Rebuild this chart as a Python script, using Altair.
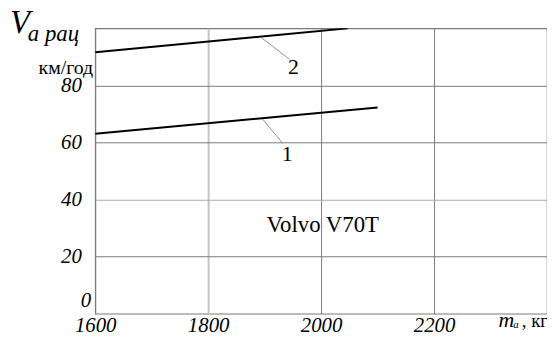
import altair as alt
import pandas as pd

# data
series = ["1", "1", "2", "2"]
mass = [1600, 2100, 1600, 2047]
speed = [63.1, 72.3, 91.6, 100.0]

x_ticks = [1600, 1800, 2000, 2200]
y_ticks = [20, 40, 60, 80]

# leader lines for curve labels (from curve point to label)
lead_m1 = [1893, 1896]
lead_v1 = [96.9, 68.3]
lead_m2 = [1944, 1932]
lead_v2 = [89.2, 59.7]
lab_text = ["2", "1"]
lab_m = [1951, 1940]
lab_v = [86.4, 56.0]

df = pd.DataFrame({"series": series, "m": mass, "v": speed})
lead = pd.DataFrame({"m1": lead_m1, "v1": lead_v1, "m2": lead_m2, "v2": lead_v2})
labs = pd.DataFrame({"t": lab_text, "m": lab_m, "v": lab_v})

SERIF = "Liberation Serif"

xs = alt.Scale(domain=[1600, 2400], nice=False)
ys = alt.Scale(domain=[0, 100], nice=False)

x_axis = alt.Axis(values=x_ticks, title=None, grid=True, ticks=False, domain=False, format="d",
                  labelFont=SERIF, labelFontStyle="italic", labelFontSize=21,
                  labelColor="black", labelPadding=1, labelFlush=False,
                  gridColor={"condition": {"test": "datum.value == 1800", "value": "#c4c4c4"}, "value": "#7a7a7a"},
                  gridWidth={"condition": {"test": "datum.value == 1800", "value": 2}, "value": 1})
y_axis = alt.Axis(values=y_ticks, title=None, grid=True, ticks=False, domain=False, format="d",
                  labelFont=SERIF, labelFontStyle="italic", labelFontSize=21,
                  labelColor="black", labelPadding=14,
                  gridColor={"condition": {"test": "datum.value == 40", "value": "#a8a8a8"}, "value": "#7a7a7a"})

lines = alt.Chart(df).mark_line(color="black", strokeWidth=2, clip=True).encode(
    x=alt.X("m:Q", scale=xs, axis=x_axis),
    y=alt.Y("v:Q", scale=ys, axis=y_axis),
    detail="series:N",
)

leaders = alt.Chart(lead).mark_rule(color="#777777", strokeWidth=0.8).encode(
    x="m1:Q", y="v1:Q", x2="m2:Q", y2="v2:Q"
)

curve_labels = alt.Chart(labs).mark_text(font=SERIF, fontSize=22, color="black").encode(
    x="m:Q", y="v:Q", text="t:N"
)

def note(text, x, y, size, italic=False, align="left"):
    kw = dict(font=SERIF, fontSize=size, align=align, baseline="alphabetic", color="black")
    if italic:
        kw["fontStyle"] = "italic"
    return alt.Chart(pd.DataFrame({"t": [text]})).mark_text(**kw).encode(
        x=alt.value(x), y=alt.value(y), text="t:N")

zero = alt.Chart(pd.DataFrame({"m": [1600], "v": [0], "t": ["0"]})).mark_text(
    font=SERIF, fontSize=21, fontStyle="italic", align="right", baseline="middle",
    dx=-4, dy=-13, color="black"
).encode(x="m:Q", y="v:Q", text="t:N")

volvo = alt.Chart(pd.DataFrame({"m": [2003], "v": [31.1], "t": ["Volvo V70T"]})).mark_text(
    font=SERIF, fontSize=23, color="black", baseline="middle"
).encode(x="m:Q", y="v:Q", text="t:N")

chart = alt.layer(
    lines, leaders, curve_labels, zero, volvo,
    note("V", -86, 5, 33, True),
    note("а рац", -68, 13, 23, True),
    note("км/год", -2, 46, 20, align="right"),
    note("m", 407, 301, 22, True),
    note("a", 422, 302, 11, True),
    note(", кг", 457, 301, 19, align="right"),
).properties(
    width=456, height=288,
    autosize=alt.AutoSizeParams(type="none"),
    padding={"left": 88, "top": 19, "right": 0, "bottom": 26},
).configure(font=SERIF).configure_view(stroke="#7a7a7a", strokeWidth=1.2)

chart.save("out.html", embed_options={"renderer": "svg", "actions": False})
